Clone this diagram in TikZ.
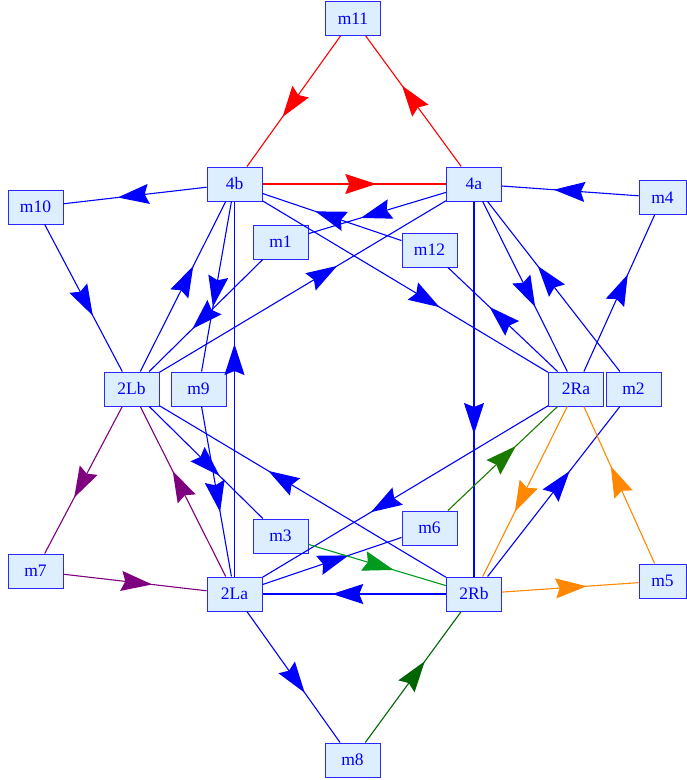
\documentclass[tikz,border=0pt]{standalone}
\usepackage{fontspec}
\setmainfont{Liberation Serif}
\usetikzlibrary{arrows.meta,decorations.markings}
\definecolor{nfill}{HTML}{DDEEFF}
\definecolor{nline}{HTML}{2828FF}
\definecolor{eblue}{HTML}{0000FF}
\definecolor{ered}{HTML}{FF0000}
\definecolor{epurple}{HTML}{7F007F}
\definecolor{eorange}{HTML}{FF8800}
\definecolor{egreen}{HTML}{009A1E}
\definecolor{emgreen}{HTML}{1A7A00}
\definecolor{edgreen}{HTML}{006400}
\begin{document}
\begin{tikzpicture}[x=1pt,y=-1pt,
  nd/.style={draw=nline, fill=nfill, text=eblue, minimum width=55pt, minimum height=34pt,
    inner sep=0pt, font=\fontsize{17.5}{20}\selectfont, line width=1pt},
  ed/.style={line width=1.1pt, postaction={decorate},
    decoration={markings, mark=at position 0.62 with {\arrow{Stealth[length=31pt,width=20pt,inset=4pt]}}}},
  eb/.style={ed, draw=eblue, color=eblue},
  er/.style={ed, draw=ered, color=ered},
  ep/.style={ed, draw=epurple, color=epurple},
  eo/.style={ed, draw=eorange, color=eorange},
  eg/.style={ed, draw=egreen, color=egreen},
  emg/.style={ed, draw=emgreen, color=emgreen},
  edg/.style={ed, draw=edgreen, color=edgreen}
]
\useasboundingbox (0,0) rectangle (687,780);

\node[nd] (m11) at (353,18.5) {m11};
\node[nd] (4b) at (234.5,184) {4b};
\node[nd] (4a) at (474,184) {4a};
\node[nd] (m10) at (35.5,207) {m10};
\node[nd, minimum width=47pt] (m4) at (662.5,197.5) {m4};
\node[nd] (m1) at (280.5,242) {m1};
\node[nd] (m12) at (429.5,250) {m12};
\node[nd] (2Lb) at (131.5,389) {2Lb};
\node[nd] (m9) at (198.5,389) {m9};
\node[nd] (2Ra) at (576,389) {2Ra};
\node[nd] (m2) at (633.5,389) {m2};
\node[nd] (m3) at (280.5,536) {m3};
\node[nd] (m6) at (429.5,528) {m6};
\node[nd] (m7) at (35.5,571) {m7};
\node[nd] (2La) at (234.5,594) {2La};
\node[nd] (2Rb) at (474,594) {2Rb};
\node[nd, minimum width=47pt] (m5) at (662.5,581) {m5};
\node[nd] (m8) at (352.5,760) {m8};

% red
\draw[er] (m11) -- (4b);
\draw[er] (4a) -- (m11);
\draw[er] (4b) -- (4a);
% blue
\draw[eb] (4b) -- (m10);
\draw[eb] (m10) -- (2Lb);
\draw[eb] (m4) -- (4a);
\draw[eb] (2Ra) -- (m4);
\draw[eb] (4a) -- (m1);
\draw[eb] (m12) -- (4b);
\draw[eb] (4b) -- (2Ra);
\draw[eb] (2Lb) -- (4a);
\draw[eb] (m1) -- (2Lb);
\draw[eb] (2Lb) -- (4b);
\draw[eb] (4b) -- (m9);
\draw[eb] (2La) -- (4b);
\draw[eb] (4a) -- (2Rb);
\draw[eb] (4a) -- (2Ra);
\draw[eb] (m2) -- (4a);
\draw[eb] (2Ra) -- (m12);
\draw[eb] (2Lb) -- (m3);
\draw[eb] (2Rb) -- (2Lb);
\draw[eb] (m9) -- (2La);
\draw[eb] (2Ra) -- (2La);
\draw[eb] (2La) -- (m6);
\draw[eb] (2Rb) -- (2La);
\draw[eb] (2Rb) -- (m2);
\draw[eb] (2La) -- (m8);
% purple
\draw[ep] (2La) -- (2Lb);
\draw[ep] (2Lb) -- (m7);
\draw[ep] (m7) -- (2La);
% orange
\draw[eo] (2Ra) -- (2Rb);
\draw[eo] (m5) -- (2Ra);
\draw[eo] (2Rb) -- (m5);
% greens
\draw[eg] (m3) -- (2Rb);
\draw[emg] (m6) -- (2Ra);
\draw[edg] (m8) -- (2Rb);
\end{tikzpicture}
\end{document}
